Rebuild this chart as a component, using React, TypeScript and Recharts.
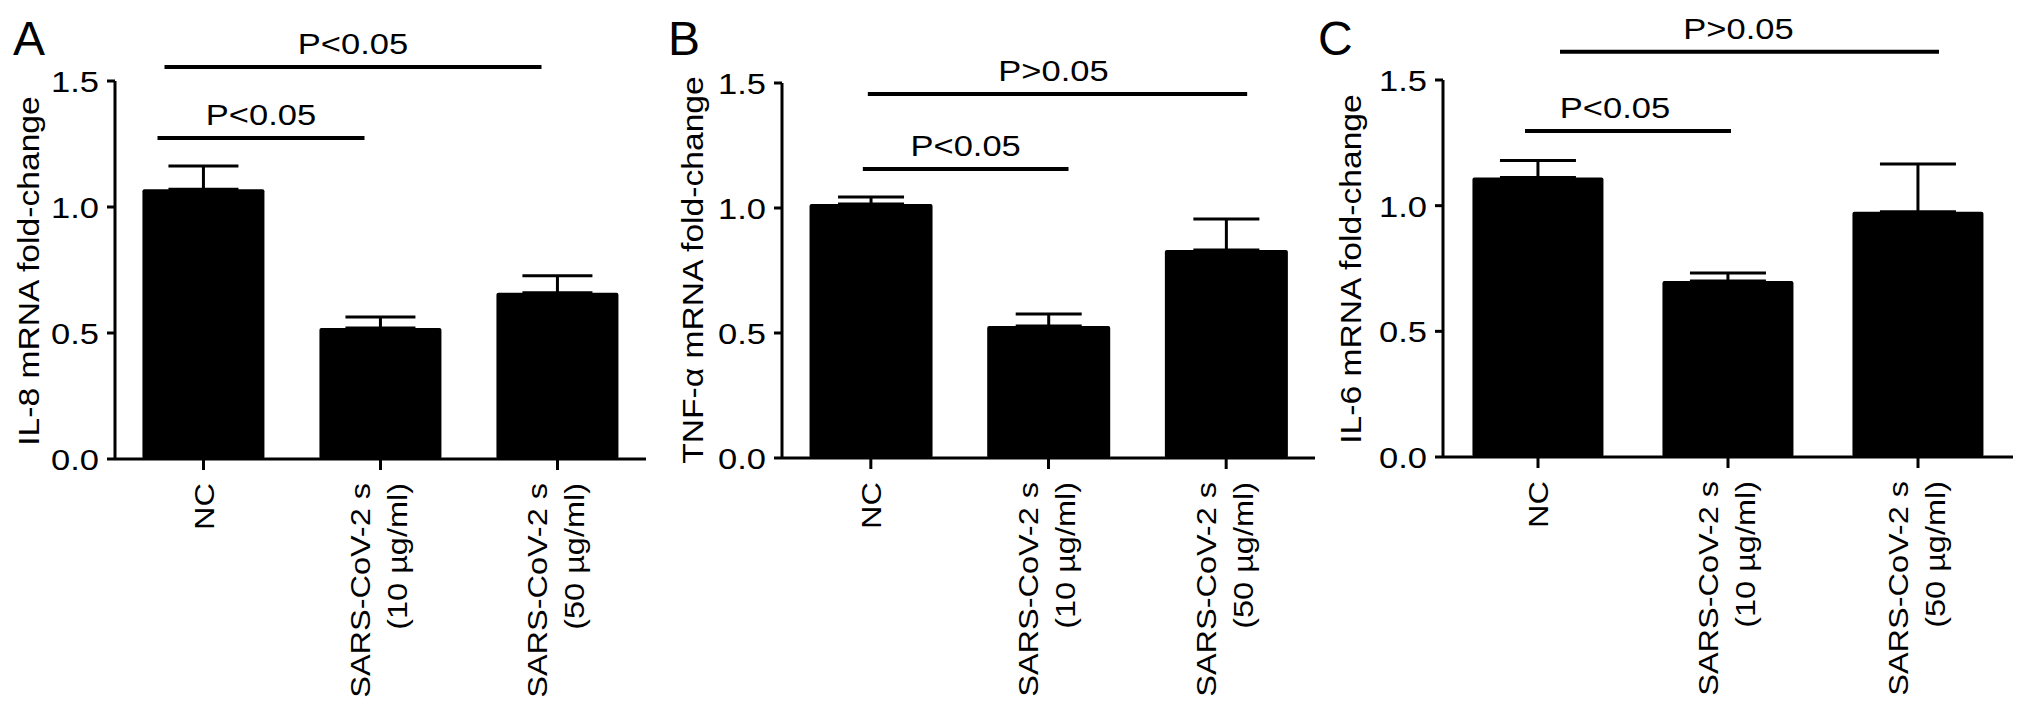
import React from 'react';
import { BarChart, Bar, XAxis, YAxis, ErrorBar, ReferenceLine } from 'recharts';

// ---------- data ----------
const categoryLines: string[][] = [
  ['NC'],
  ['SARS-CoV-2 s', '(10 µg/ml)'],
  ['SARS-CoV-2 s', '(50 µg/ml)'],
];
const categories = categoryLines.map((l) => l.join('|'));

const il8Means = [1.07, 0.52, 0.66];
const il8Errors = [0.093, 0.043, 0.067];

const tnfMeans = [1.016, 0.528, 0.832];
const tnfErrors = [0.028, 0.048, 0.124];

const il6Means = [1.112, 0.7, 0.976];
const il6Errors = [0.068, 0.032, 0.19];

const yTicks = [0, 0.5, 1.0, 1.5];

const il8Sig = [
  { from: 0, to: 1, y: 1.274, label: 'P<0.05' },
  { from: 0, to: 2, y: 1.556, label: 'P<0.05' },
];
const tnfSig = [
  { from: 0, to: 1, y: 1.156, label: 'P<0.05' },
  { from: 0, to: 2, y: 1.456, label: 'P>0.05' },
];
const il6Sig = [
  { from: 0, to: 1, y: 1.297, label: 'P<0.05' },
  { from: 0, to: 2, y: 1.612, label: 'P>0.05' },
];

const panelLetters = ['A', 'B', 'C'];
const yTitles = ['IL-8 mRNA fold-change', 'TNF-α mRNA fold-change', 'IL-6 mRNA fold-change'];

// ---------- styles ----------
const FONT = '"Liberation Sans", Arial, Helvetica, sans-serif';
const H = 718;
const Y_AXIS_W = 80;
const X_AXIS_H = 200;

const XTick = (props: any) => {
  const { x, y, payload } = props;
  const lines = String(payload.value).split('|');
  const n = lines.length;
  return (
    <g transform={`translate(${x},${y + 13})`}>
      {lines.map((line, i) => {
        const bx = (i - (n - 1) / 2) * 37 + (n === 1 ? 10 : 8);
        return (
          <text
            key={i}
            transform={`translate(${bx},0) rotate(-90) scale(1.16,1)`}
            textAnchor="end"
            fontSize={28}
            fontFamily={FONT}
            fill="#000"
          >
            {line}
          </text>
        );
      })}
    </g>
  );
};

const YTick = (props: any) => {
  const { x, y, payload } = props;
  return (
    <text
      transform={`translate(${x},${y}) scale(1.15,1)`}
      textAnchor="end"
      dy={11}
      fontSize={30}
      fontFamily={FONT}
      fill="#000"
    >
      {Number(payload.value).toFixed(1)}
    </text>
  );
};

const makeSigShape = (dx1: number, dx2: number, tdx: number, label: string) => (p: any) => {
  const a = Number(p.x1) + dx1;
  const b = Number(p.x2) + dx2;
  const yy = Number(p.y1);
  const cx = (a + b) / 2 + tdx;
  return (
    <g>
      <line x1={a} y1={yy} x2={b} y2={yy} stroke="#000" strokeWidth={4} />
      <text
        transform={`translate(${cx},${yy - 13}) scale(1.15,1)`}
        textAnchor="middle"
        fontSize={30}
        fontFamily={FONT}
        fill="#000"
      >
        {label}
      </text>
    </g>
  );
};

type PanelProps = {
  left: number;
  width: number;
  plotLeft: number;
  plotRight: number;
  plotTop: number;
  plotBottom: number;
  means: number[];
  errors: number[];
  sig: { from: number; to: number; y: number; label: string }[];
  sigOffsets: [number, number, number][];
  capHalf: number;
};

const Panel = (pp: PanelProps) => {
  const data = categories.map((c, i) => ({ name: c, value: pp.means[i], err: [0, pp.errors[i]] }));
  const margin = {
    top: pp.plotTop,
    bottom: H - pp.plotBottom - X_AXIS_H,
    left: pp.plotLeft - pp.left - Y_AXIS_W,
    right: pp.left + pp.width - pp.plotRight,
  };
  const axisStyle = { stroke: '#000', strokeWidth: 3 };
  return (
    <div style={{ position: 'absolute', left: pp.left, top: 0 }}>
      <BarChart width={pp.width} height={H} data={data} margin={margin} barCategoryGap="15.5%">
        <XAxis
          dataKey="name"
          height={X_AXIS_H}
          interval={0}
          tick={(p: any) => <XTick {...p} />}
          tickSize={11}
          tickMargin={0}
          axisLine={axisStyle}
          tickLine={axisStyle}
        />
        <YAxis
          width={Y_AXIS_W}
          domain={[0, 1.5]}
          ticks={yTicks}
          interval={0}
          tick={(p: any) => <YTick {...p} />}
          tickSize={8}
          tickMargin={8}
          axisLine={axisStyle}
          tickLine={axisStyle}
        />
        <Bar dataKey="value" fill="#000" isAnimationActive={false} radius={2}>
          <ErrorBar
            dataKey="err"
            width={pp.capHalf}
            strokeWidth={3}
            stroke="#000"
            direction="y"
            isAnimationActive={false}
          />
        </Bar>
        {pp.sig.map((s, i) => (
          <ReferenceLine
            key={i}
            segment={[
              { x: categories[s.from], y: s.y },
              { x: categories[s.to], y: s.y },
            ]}
            ifOverflow="visible"
            stroke="#000"
            strokeWidth={4}
            shape={makeSigShape(pp.sigOffsets[i][0], pp.sigOffsets[i][1], pp.sigOffsets[i][2], s.label)}
          />
        ))}
      </BarChart>
    </div>
  );
};

const letterPos = [
  { x: 13, y: 55 },
  { x: 668, y: 55 },
  { x: 1318, y: 55 },
];
const titlePos = [
  { x: 39, y: 271 },
  { x: 703, y: 270 },
  { x: 1361, y: 269 },
];

export default function App() {
  return (
    <div
      style={{
        position: 'absolute',
        left: 0,
        top: 0,
        width: 2032,
        height: H,
        background: '#fff',
        overflow: 'hidden',
      }}
    >
      <Panel
        left={0}
        width={680}
        plotLeft={115}
        plotRight={646}
        plotTop={81}
        plotBottom={459}
        means={il8Means}
        errors={il8Errors}
        sig={il8Sig}
        sigOffsets={[
          [-46, -16, 0],
          [-39, -16, 0],
        ]}
        capHalf={35}
      />
      <Panel
        left={650}
        width={690}
        plotLeft={782}
        plotRight={1315}
        plotTop={83}
        plotBottom={458}
        means={tnfMeans}
        errors={tnfErrors}
        sig={tnfSig}
        sigOffsets={[
          [-8, 20, 0],
          [-3, 21, -4],
        ]}
        capHalf={33}
      />
      <Panel
        left={1300}
        width={732}
        plotLeft={1443}
        plotRight={2013}
        plotTop={80}
        plotBottom={457}
        means={il6Means}
        errors={il6Errors}
        sig={il6Sig}
        sigOffsets={[
          [-13, 3, -13],
          [22, 21, -11],
        ]}
        capHalf={38}
      />
      <svg
        width={2032}
        height={H}
        style={{ position: 'absolute', left: 0, top: 0, pointerEvents: 'none' }}
      >
        {panelLetters.map((l, i) => (
          <text key={l} x={letterPos[i].x} y={letterPos[i].y} fontSize={48} fontFamily={FONT} fill="#000">
            {l}
          </text>
        ))}
        {yTitles.map((t, i) => (
          <text
            key={t}
            transform={`translate(${titlePos[i].x},${titlePos[i].y}) rotate(-90) scale(1.16,1)`}
            textAnchor="middle"
            fontSize={29}
            fontFamily={FONT}
            fill="#000"
          >
            {t}
          </text>
        ))}
      </svg>
    </div>
  );
}
